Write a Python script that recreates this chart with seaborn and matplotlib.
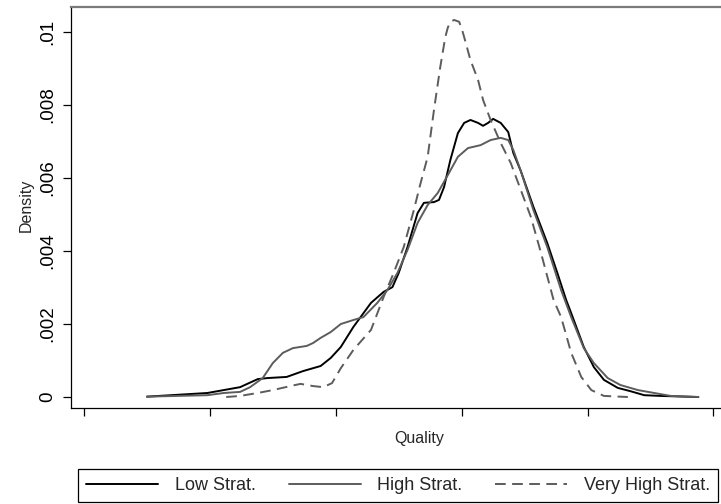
import pandas as pd
import seaborn as sns
import matplotlib.pyplot as plt

# Density curves (quality, density)
low_x = [150, 198, 211, 224, 238, 246, 261, 274, 288, 296, 304, 314, 328, 338, 345, 350,
         357, 365, 370, 378, 382, 386, 391, 397, 402, 407, 413, 417, 421, 425, 431, 437,
         441, 447, 457, 468, 476, 483, 487, 497, 505, 513, 524, 534, 545, 558, 588]
low_y = [0.00001, 0.00011, 0.00019, 0.00027, 0.00049, 0.00052, 0.00055, 0.00071, 0.00085,
         0.00107, 0.00137, 0.00192, 0.00258, 0.00288, 0.00301, 0.00340, 0.00411, 0.00504,
         0.00532, 0.00534, 0.00540, 0.00575, 0.00649, 0.00723, 0.00751, 0.00759, 0.00751,
         0.00743, 0.00751, 0.00762, 0.00751, 0.00726, 0.00669, 0.00619, 0.00521, 0.00422,
         0.00340, 0.00266, 0.00230, 0.00137, 0.00082, 0.00047, 0.00025, 0.00016, 0.00005,
         0.00003, 0.0]

high_x = [150, 198, 211, 224, 232, 242, 250, 258, 266, 277, 282, 288, 296, 304, 314, 322,
          333, 341, 349, 357, 365, 373, 381, 389, 397, 405, 415, 423, 431, 437, 441, 447,
          457, 468, 479, 487, 497, 505, 516, 526, 540, 553, 566, 588]
high_y = [0.00001, 0.00005, 0.00011, 0.00014, 0.00027, 0.00052, 0.00093, 0.00121, 0.00134,
          0.00140, 0.00148, 0.00162, 0.00178, 0.00200, 0.00211, 0.00219, 0.00258, 0.00293,
          0.00340, 0.00403, 0.00477, 0.00526, 0.00559, 0.00608, 0.00658, 0.00682, 0.00690,
          0.00704, 0.00710, 0.00704, 0.00677, 0.00619, 0.00512, 0.00411, 0.00293, 0.00219,
          0.00134, 0.00093, 0.00052, 0.00033, 0.00019, 0.00011, 0.00003, 0.0]

vhigh_x = [213, 224, 238, 250, 264, 272, 282, 290, 297, 304, 314, 328, 338, 346, 354, 362,
           367, 373, 378, 383, 387, 389, 391, 394, 398, 400, 402, 407, 413, 417, 423, 431,
           439, 447, 455, 463, 473, 479, 487, 495, 503, 513, 532]
vhigh_y = [0.0, 0.00003, 0.00011, 0.00019, 0.00030, 0.00036, 0.00030, 0.00027, 0.00038,
           0.00079, 0.00129, 0.00184, 0.00274, 0.00340, 0.00411, 0.00512, 0.00581, 0.00658,
           0.00786, 0.00904, 0.00986, 0.01012, 0.01028, 0.01033, 0.01028, 0.01010, 0.00986,
           0.00923, 0.00869, 0.00814, 0.00759, 0.00696, 0.00641, 0.00567, 0.00493, 0.00395,
           0.00266, 0.00219, 0.00121, 0.00055, 0.00019, 0.00003, 0.0]

groups = ['Low Strat.', 'High Strat.', 'Very High Strat.']
y_ticks = [0, 0.002, 0.004, 0.006, 0.008, 0.01]
y_tick_labels = ['0', '.002', '.004', '.006', '.008', '.01']
x_ticks = [100, 200, 300, 400, 500, 600]

df = pd.concat([
    pd.DataFrame({'Quality': low_x, 'Density': low_y, 'group': groups[0]}),
    pd.DataFrame({'Quality': high_x, 'Density': high_y, 'group': groups[1]}),
    pd.DataFrame({'Quality': vhigh_x, 'Density': vhigh_y, 'group': groups[2]}),
], ignore_index=True)

sns.set_style('ticks')
plt.rcParams['font.family'] = ['Liberation Sans', 'DejaVu Sans']

fig = plt.figure(figsize=(7.21, 5.04), dpi=100)
ax = fig.add_axes([71 / 721, 96 / 504, 650 / 721, 400.7 / 504])

palette = {'Low Strat.': '#000000', 'High Strat.': '#5c5c5c', 'Very High Strat.': '#5c5c5c'}
dashes = {'Low Strat.': '', 'High Strat.': '', 'Very High Strat.': (5.5, 3.3)}
sns.lineplot(data=df, x='Quality', y='Density', hue='group', style='group',
             palette=palette, dashes=dashes, estimator=None, sort=False,
             linewidth=1.4, ax=ax)

ax.set_xlim(89.7, 606)
ax.set_ylim(-0.000301, 0.010677)
ax.set_yticks(y_ticks)
ax.set_yticklabels(y_tick_labels, rotation=90, va='center', fontsize=13.5)
ax.set_xticks(x_ticks)
ax.set_xticklabels([''] * len(x_ticks))
ax.tick_params(axis='y', length=5.5, width=0.9, pad=5, colors='black')
ax.tick_params(axis='x', length=5.8, width=0.9, colors='black')

ax.set_xlabel('Quality', fontsize=11.5)
ax.set_ylabel('Density', fontsize=11.5)
ax.xaxis.set_label_coords(0.535, -0.057)
ax.yaxis.set_label_coords(-0.057, 0.507)

ax.spines['right'].set_visible(False)
ax.spines['top'].set_color('#7a7a7a')
ax.spines['top'].set_linewidth(1.6)
ax.spines['left'].set_color('black')
ax.spines['bottom'].set_color('black')
ax.spines['left'].set_linewidth(0.9)
ax.spines['bottom'].set_linewidth(0.9)

handles, labels = ax.get_legend_handles_labels()
ax.get_legend().remove()
leg = fig.legend(handles, labels, loc='upper left', ncol=3, mode='expand',
                 bbox_to_anchor=(78 / 721, -0.2, 640 / 721, 35 / 504 + 0.2),
                 borderaxespad=0, fontsize=13, handlelength=4.0, handletextpad=0.9,
                 borderpad=0.45, fancybox=False, framealpha=1)
leg.get_frame().set_edgecolor('black')
leg.get_frame().set_linewidth(0.9)

fig.savefig('out.png', dpi=100)
